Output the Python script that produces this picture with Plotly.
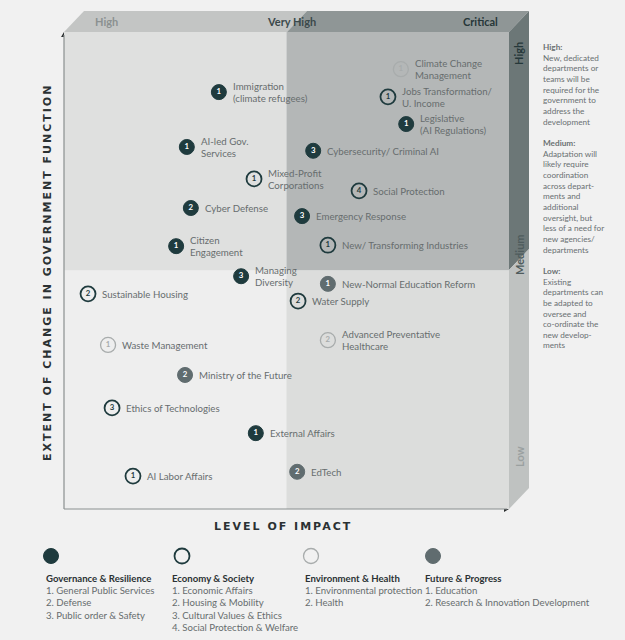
import plotly.graph_objects as go

W, H = 625, 640

# ---------------- data ----------------
labels = [
    ["Immigration", "(climate refugees)"],
    ["AI-led Gov.", "Services"],
    ["Mixed-Profit", "Corporations"],
    ["Cyber Defense"],
    ["Citizen", "Engagement"],
    ["Managing", "Diversity"],
    ["Sustainable Housing"],
    ["Waste Management"],
    ["Ministry of the Future"],
    ["Ethics of Technologies"],
    ["External Affairs"],
    ["AI Labor Affairs"],
    ["Climate Change", "Management"],
    ["Jobs Transformation/", "U. Income"],
    ["Legislative", "(AI Regulations)"],
    ["Cybersecurity/ Criminal AI"],
    ["Social Protection"],
    ["Emergency Response"],
    ["New/ Transforming Industries"],
    ["New-Normal Education Reform"],
    ["Water Supply"],
    ["Advanced Preventative", "Healthcare"],
    ["EdTech"],
]
impact = [34.8, 27.6, 42.7, 28.5, 25.2, 39.8, 5.4, 9.9, 27.2, 10.8, 43.1, 15.5,
          75.7, 72.8, 76.9, 56.0, 66.3, 53.5, 59.3, 59.3, 52.6, 59.3, 52.4]
change = [87.4, 75.9, 69.2, 63.1, 55.1, 48.8, 45.1, 34.4, 28.1, 21.2, 15.9, 6.9,
          92.2, 86.4, 80.7, 75.1, 66.7, 61.4, 55.3, 47.2, 43.6, 35.4, 7.8]
group = ["gov", "gov", "eco", "gov", "gov", "gov", "eco", "env", "fut", "eco", "gov", "eco",
         "env", "eco", "gov", "gov", "eco", "gov", "eco", "fut", "eco", "env", "fut"]
number = [1, 1, 1, 2, 1, 3, 2, 1, 2, 3, 1, 1,
          1, 1, 1, 3, 4, 3, 1, 1, 2, 2, 2]

group_keys = ["gov", "eco", "env", "fut"]
group_titles = ["Governance & Resilience", "Economy & Society", "Environment & Health", "Future & Progress"]
group_items = [
    ["1. General Public Services", "2. Defense", "3. Public order & Safety"],
    ["1. Economic Affairs", "2. Housing & Mobility", "3. Cultural Values & Ethics", "4. Social Protection & Welfare"],
    ["1. Environmental protection", "2. Health"],
    ["1. Education", "2. Research & Innovation Development"],
]

top_levels = ["High", "Very High", "Critical"]
side_levels = ["High", "Medium", "Low"]
x_title = "LEVEL OF IMPACT"
y_title = "EXTENT OF CHANGE IN GOVERNMENT FUNCTION"

side_note = [
    "<b>High:</b>", "New, dedicated", "departments or", "teams will be", "required for the",
    "government to", "address the", "development", "",
    "<b>Medium:</b>", "Adaptation will", "likely require", "coordination", "across depart-",
    "ments and", "additional", "oversight, but", "less of a need for", "new agencies/",
    "departments", "",
    "<b>Low:</b>", "Existing", "departments can", "be adapted to", "oversee and",
    "co-ordinate the", "new develop-", "ments",
]

# ---------------- styles ----------------
DARK = "#1f3b3e"
GREYF = "#606c6f"
LIGHT = "#a8acac"
TXT = "#676d6e"
BG = "#f1f1f1"
FONT = "Lato"

style = {
    "gov": dict(fill=DARK, line=DARK, lw=1, tc="white"),
    "eco": dict(fill="rgba(0,0,0,0)", line=DARK, lw=1.8, tc=DARK),
    "env": dict(fill="rgba(0,0,0,0)", line=LIGHT, lw=1.3, tc=LIGHT),
    "fut": dict(fill=GREYF, line=GREYF, lw=1, tc="white"),
}

# pixel frame of the plotting area
PL, PR, PT, PB = 64, 509, 32, 509


def fx(p):
    return p / W


def fy(p):
    return 1 - p / H


fig = go.Figure()

for g in group_keys:
    idx = [i for i, gg in enumerate(group) if gg == g]
    s = style[g]
    fig.add_trace(go.Scatter(
        x=[impact[i] for i in idx], y=[change[i] for i in idx],
        mode="markers+text",
        text=[str(number[i]) for i in idx],
        textposition="middle center",
        textfont=dict(family=FONT, size=7.8, color=s["tc"], weight="bold"),
        marker=dict(size=15, color=s["fill"], line=dict(color=s["line"], width=s["lw"])),
        hoverinfo="skip", showlegend=False, cliponaxis=False,
    ))

shapes = []
# quadrant backgrounds
quad = [(0, 50, 50, 100, "#dfe0df"), (50, 100, 50, 100, "#b4b7b7"),
        (0, 50, 0, 50, "#eeeeee"), (50, 100, 0, 50, "#dcdddc")]
for a, b, c, d, col in quad:
    shapes.append(dict(type="rect", xref="x", yref="y", x0=a, x1=b, y0=c, y1=d,
                       fillcolor=col, line=dict(width=0), layer="below"))


def poly(pts, col):
    path = "M " + " L ".join(f"{fx(x):.5f},{fy(y):.5f}" for x, y in pts) + " Z"
    return dict(type="path", xref="paper", yref="paper", path=path,
                fillcolor=col, line=dict(width=0), layer="below")


# 3D-style bands
shapes.append(poly([(PL, PT), (PL + 20, PT - 21), (307, PT - 21), (287, PT)], "#c3c5c4"))
shapes.append(poly([(287, PT), (307, PT - 21), (PR + 20, PT - 21), (PR, PT)], "#8f9696"))
shapes.append(poly([(PR, PT), (PR + 20, PT - 21), (PR + 20, 249), (PR, 270)], "#6c7777"))
shapes.append(poly([(PR, 270), (PR + 20, 249), (PR + 20, PB - 21), (PR, PB)], "#bfc2c1"))

# axes lines + arrows
shapes.append(dict(type="line", xref="paper", yref="paper", x0=fx(PL), x1=fx(PL), y0=fy(PB), y1=fy(PT + 3),
                   line=dict(color="#8a8f8f", width=1.2)))
shapes.append(dict(type="line", xref="paper", yref="paper", x0=fx(PL), x1=fx(PR - 2), y0=fy(PB), y1=fy(PB),
                   line=dict(color="#8a8f8f", width=1.2)))
shapes.append(poly([(PL - 3, PT + 5), (PL, PT), (PL + 3, PT + 5)], "#2b2f30"))
shapes.append(poly([(PR - 5, PB - 3), (PR, PB), (PR - 5, PB + 3)], "#2b2f30"))

ann = []
# point labels
for i, lines in enumerate(labels):
    n = len(lines)
    for k, ln in enumerate(lines):
        shift = (n - 1) / 2 * 11.6 - k * 11.6
        ann.append(dict(x=impact[i], y=change[i], xref="x", yref="y", text=ln, showarrow=False,
                        xanchor="left", yanchor="middle", xshift=12, yshift=shift,
                        font=dict(family=FONT, size=9.7, color=TXT)))

# top band labels
top_pos = [(106, "#8b9191"), (291, "#3b494b"), (481, "#263739")]
for t, (xp, col) in zip(top_levels, top_pos):
    ann.append(dict(x=fx(xp), y=fy(21), xref="paper", yref="paper", text=f"<b>{t}</b>", showarrow=False,
                    xanchor="center", yanchor="middle", font=dict(family=FONT, size=11, color=col)))

# side band labels
side_pos = [(54, "#26383a"), (255, "#4f5c5d"), (457, "#9aa0a0")]
for t, (yp, col) in zip(side_levels, side_pos):
    ann.append(dict(x=fx(519), y=fy(yp), xref="paper", yref="paper", text=f"<b>{t}</b>", showarrow=False,
                    textangle=-90, xanchor="center", yanchor="middle",
                    font=dict(family=FONT, size=11, color=col)))

# axis titles
ann.append(dict(x=fx(283), y=fy(526), xref="paper", yref="paper", text=f"<b>{x_title}</b>", showarrow=False,
                xanchor="center", yanchor="middle",
                font=dict(family="DejaVu Sans", size=11, color="#2b3133")))
ann.append(dict(x=fx(47), y=fy(273), xref="paper", yref="paper", text=f"<b>{y_title}</b>", showarrow=False,
                textangle=-90, xanchor="center", yanchor="middle",
                font=dict(family="DejaVu Sans", size=11, color="#2b3133")))

# side note
ann.append(dict(x=fx(541), y=fy(40), xref="paper", yref="paper", text="<br>".join(side_note),
                showarrow=False, xanchor="left", yanchor="top", align="left",
                font=dict(family=FONT, size=8.2, color="#6a7071")))

# bottom legend
leg_circle_x = [51, 182, 311, 433]
leg_text_x = [46, 172, 305, 425]
for g, cx, tx, title, items in zip(group_keys, leg_circle_x, leg_text_x, group_titles, group_items):
    s = style[g]
    shapes.append(dict(type="circle", xref="paper", yref="paper",
                       x0=fx(cx - 7.5), x1=fx(cx + 7.5), y0=fy(556 + 7.5), y1=fy(556 - 7.5),
                       fillcolor=s["fill"], line=dict(color=s["line"], width=s["lw"])))
    ann.append(dict(x=fx(tx - 2), y=fy(571), xref="paper", yref="paper", text=f"<b>{title}</b>",
                    showarrow=False, xanchor="left", yanchor="top", align="left",
                    font=dict(family=FONT, size=9.6, color="#2b3234")))
    ann.append(dict(x=fx(tx - 2), y=fy(583), xref="paper", yref="paper", text="<br>".join(items),
                    showarrow=False, xanchor="left", yanchor="top", align="left",
                    font=dict(family=FONT, size=9.6, color=TXT)))

fig.update_layout(
    width=W, height=H, margin=dict(l=0, r=0, t=0, b=0),
    paper_bgcolor=BG, plot_bgcolor="rgba(0,0,0,0)",
    xaxis=dict(range=[0, 100], domain=[fx(PL), fx(PR)], visible=False, fixedrange=True),
    yaxis=dict(range=[0, 100], domain=[fy(PB), fy(PT)], visible=False, fixedrange=True),
    shapes=shapes, annotations=ann,
)

post = """
document.body.style.margin = '0';
document.body.style.background = '%s';
var titles = %r;
document.querySelectorAll('g.annotation text').forEach(function (t) {
  if (titles.indexOf(t.textContent) >= 0) { t.style.letterSpacing = '2px'; }
});
""" % (BG, [x_title, y_title])

fig.write_html("out.html", post_script=post, config={"displayModeBar": False, "staticPlot": True})
